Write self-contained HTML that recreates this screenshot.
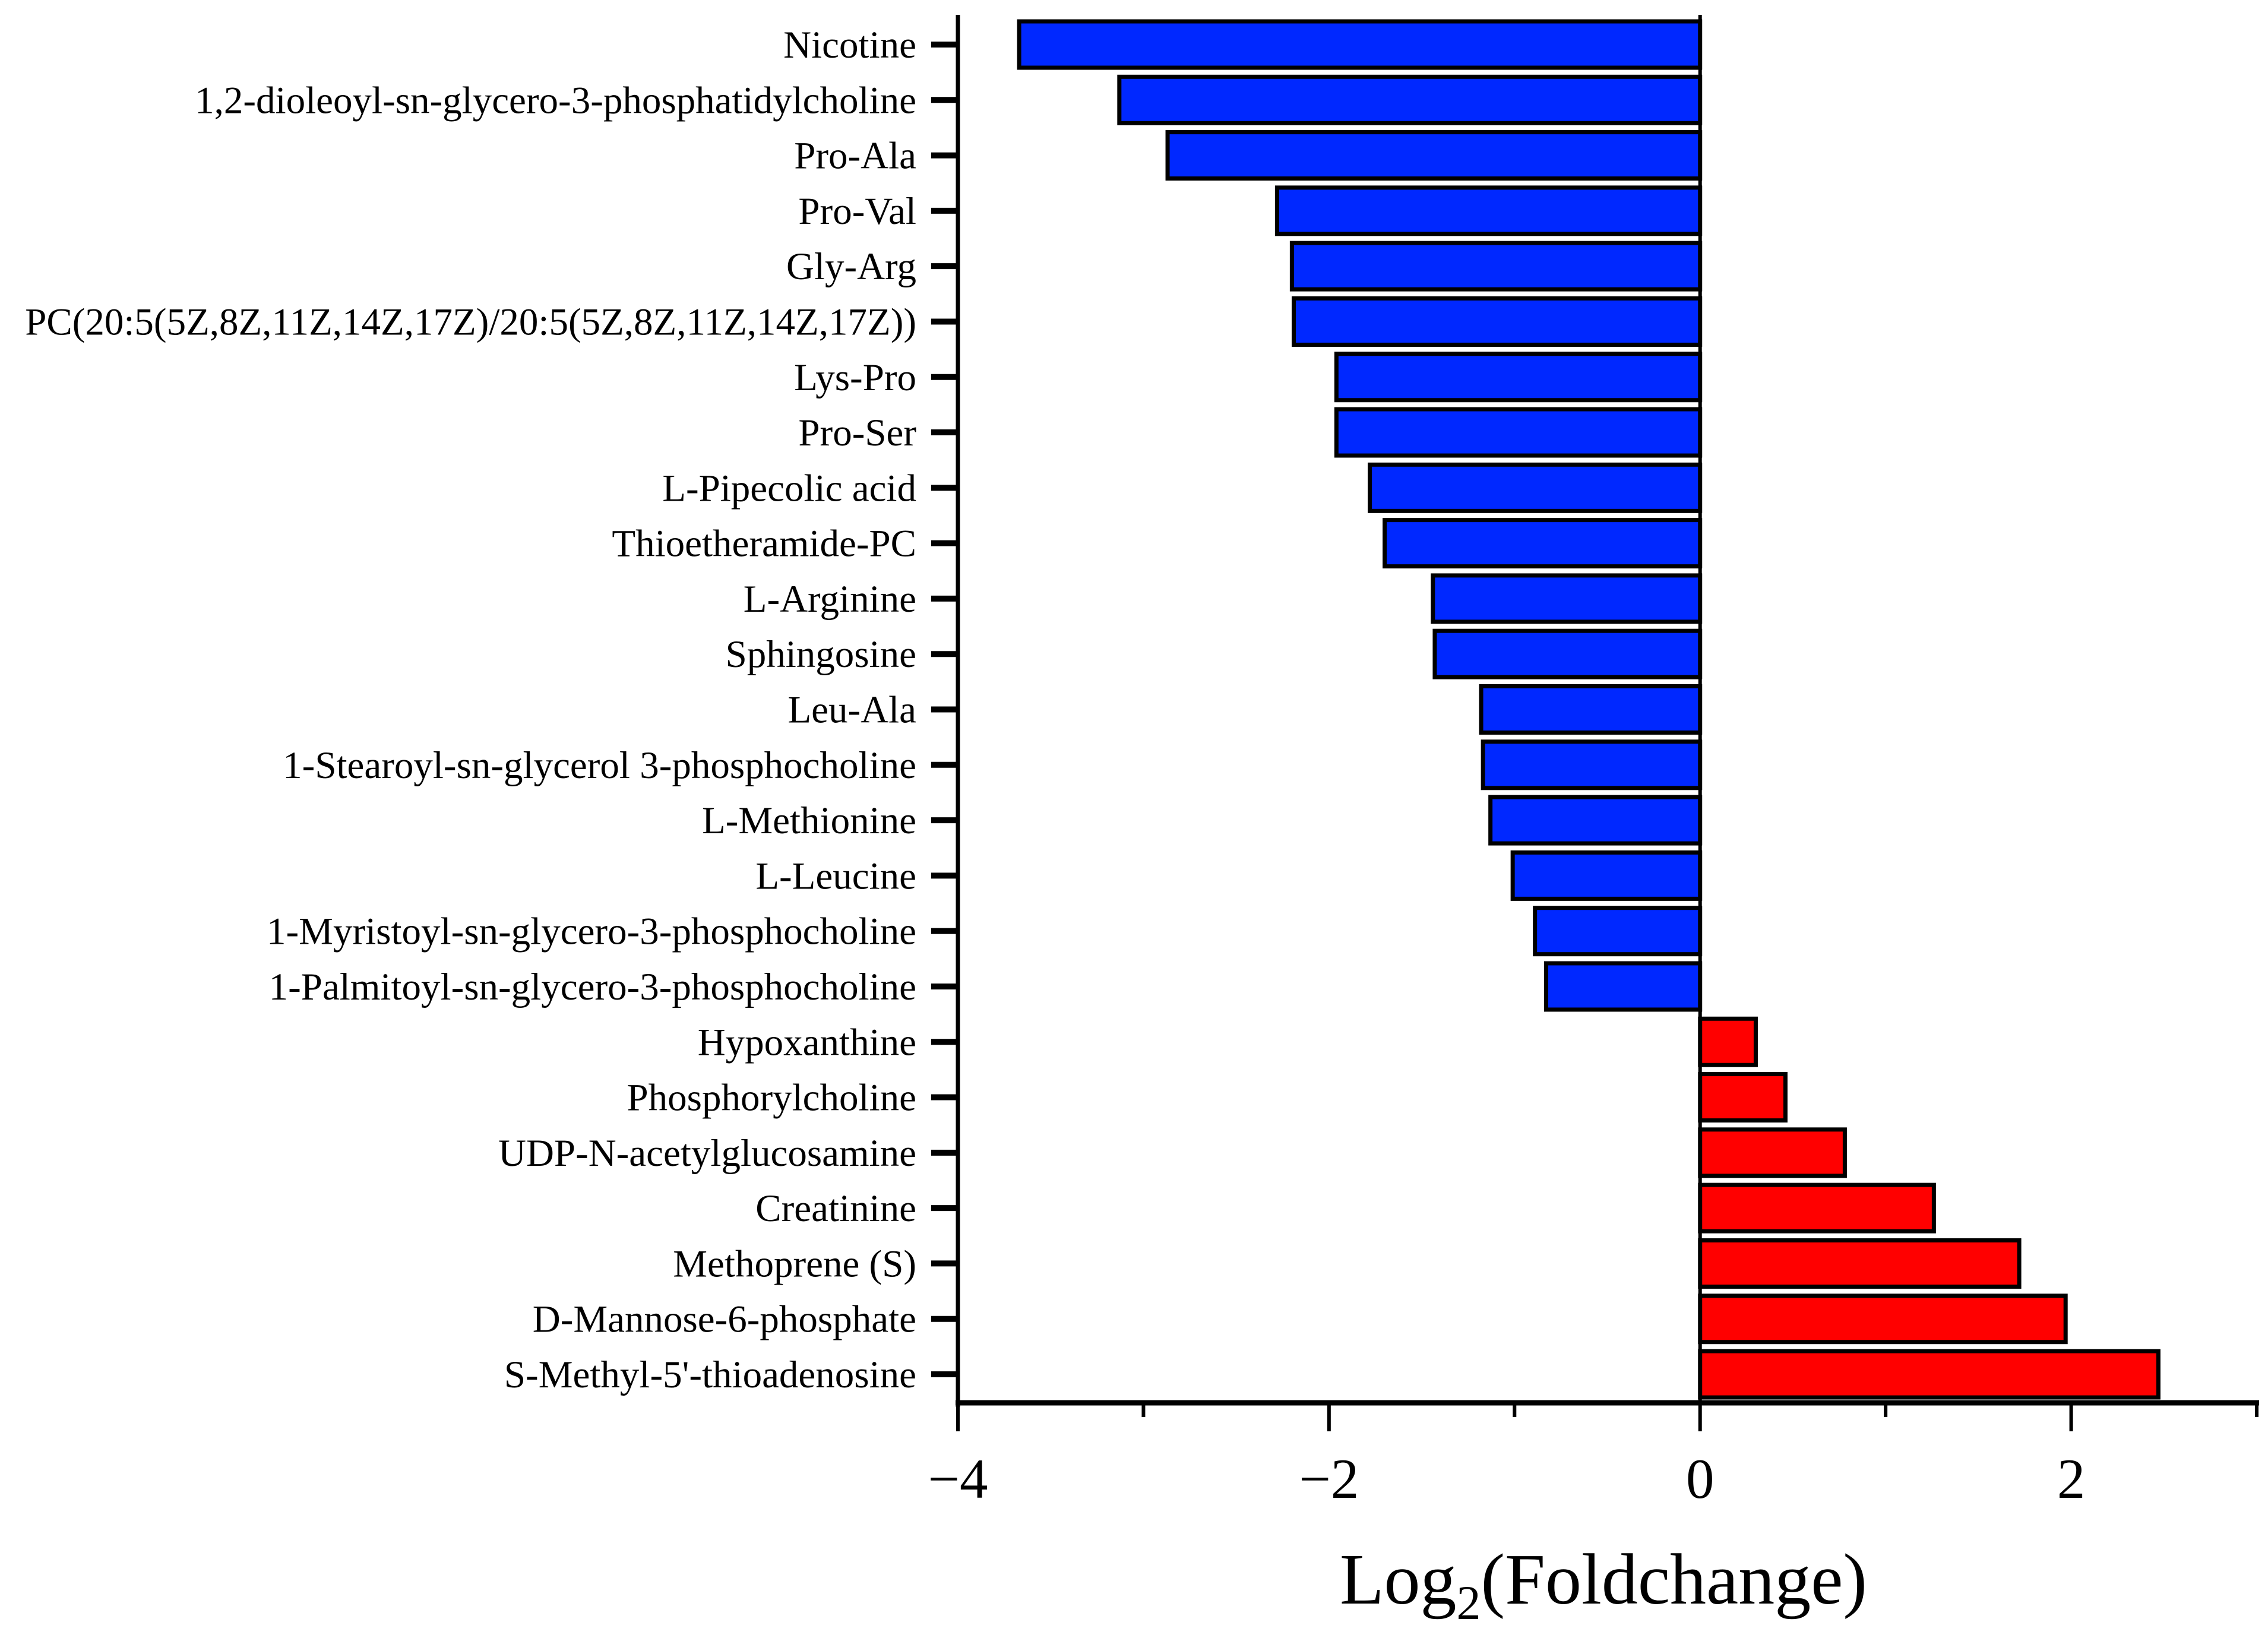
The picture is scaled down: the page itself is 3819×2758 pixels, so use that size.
<!DOCTYPE html>
<html><head><meta charset="utf-8"><style>
html,body{margin:0;padding:0;background:#fff;}
svg{display:block;font-family:"Liberation Serif",serif;}
</style></head><body>
<svg id="chart" width="3819" height="2758" viewBox="0 0 3819 2758" xmlns="http://www.w3.org/2000/svg">
<g id="bars"></g>
<g id="yaxis"></g>
<g id="xaxis"></g>
<text x="2700" y="2700" font-size="122" text-anchor="middle">Log<tspan font-size="82" dy="26">2</tspan><tspan dy="-26">(Foldchange)</tspan></text>
</svg>
<script>
const categories = ["Nicotine","1,2-dioleoyl-sn-glycero-3-phosphatidylcholine","Pro-Ala","Pro-Val","Gly-Arg","PC(20:5(5Z,8Z,11Z,14Z,17Z)/20:5(5Z,8Z,11Z,14Z,17Z))","Lys-Pro","Pro-Ser","L-Pipecolic acid","Thioetheramide-PC","L-Arginine","Sphingosine","Leu-Ala","1-Stearoyl-sn-glycerol 3-phosphocholine","L-Methionine","L-Leucine","1-Myristoyl-sn-glycero-3-phosphocholine","1-Palmitoyl-sn-glycero-3-phosphocholine","Hypoxanthine","Phosphorylcholine","UDP-N-acetylglucosamine","Creatinine","Methoprene (S)","D-Mannose-6-phosphate","S-Methyl-5'-thioadenosine"];
const values = [-3.67,-3.13,-2.87,-2.28,-2.20,-2.19,-1.96,-1.96,-1.78,-1.70,-1.44,-1.43,-1.18,-1.17,-1.13,-1.01,-0.89,-0.83,0.30,0.46,0.78,1.26,1.72,1.97,2.47];
const xTicks = [-4,-2,0,2];
const xTickLabels = ["\u22124","\u22122","0","2"];
const xMinorTicks = [-3,-1,1,3];

const NS="http://www.w3.org/2000/svg";
const X0=1613, X1=3800, xmin=-4, xmax=3;
const xs=v=>X0+(v-xmin)/(xmax-xmin)*(X1-X0);
const Y0=75, step=(2314-75)/(categories.length-1);
const ys=i=>Y0+i*step;
const barH=78;
function mk(tag,attrs,parent){const e=document.createElementNS(NS,tag);for(const k in attrs)e.setAttribute(k,attrs[k]);parent.appendChild(e);return e;}
const bars=document.getElementById('bars'), ya=document.getElementById('yaxis'), xa=document.getElementById('xaxis');
values.forEach((v,i)=>{
  const a=xs(Math.min(0,v)), b=xs(Math.max(0,v));
  const r=mk('rect',{x:a,y:ys(i)-barH/2,width:b-a,height:barH,fill:v<0?'#0028ff':'#ff0000',stroke:'#000','stroke-width':7},bars);
  
  
});
const zl=mk('line',{x1:xs(0),x2:xs(0),y1:25,y2:2365,stroke:'#000','stroke-width':6},ya);


const yl=mk('line',{x1:X0,x2:X0,y1:25,y2:2369,stroke:'#000','stroke-width':7},ya);


categories.forEach((c,i)=>{
  const t=mk('line',{x1:X0-45,x2:X0,y1:ys(i),y2:ys(i),stroke:'#000','stroke-width':10},ya);
  
  
  const tx=mk('text',{x:1543,y:ys(i)+22,'font-size':65,'text-anchor':'end'},ya);
  tx.textContent=c;
  
  
});
const xl=mk('line',{x1:X0-4,x2:X1+4,y1:2362,y2:2362,stroke:'#000','stroke-width':9},xa);


xTicks.forEach((v,i)=>{
  const t=mk('line',{x1:xs(v),x2:xs(v),y1:2362,y2:2410,stroke:'#000','stroke-width':6},xa);
  
  
  const tx=mk('text',{x:xs(v),y:2522,'font-size':95,'text-anchor':'middle'},xa);
  tx.textContent=xTickLabels[i];
  
  
});
xMinorTicks.forEach(v=>{
  const t=mk('line',{x1:xs(v),x2:xs(v),y1:2362,y2:2386,stroke:'#000','stroke-width':6},xa);
  
  
});
</script>
</body></html>
